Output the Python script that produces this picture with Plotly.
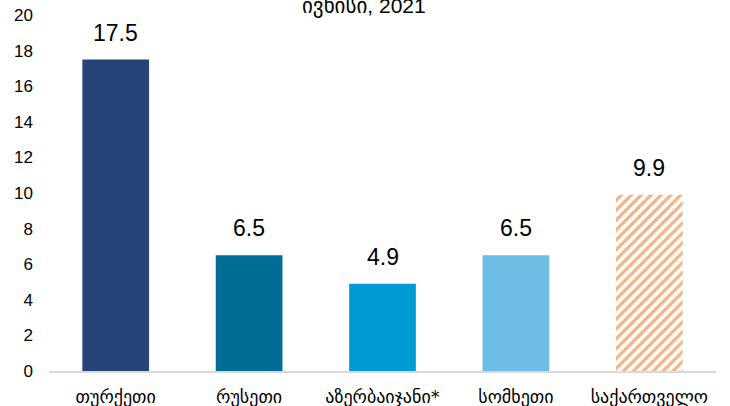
import plotly.graph_objects as go

categories = ["თურქეთი", "რუსეთი", "აზერბაიჯანი*", "სომხეთი", "საქართველო"]
values = [17.5, 6.5, 4.9, 6.5, 9.9]
title_text = "ივნისი, 2021"
y_ticks = [0, 2, 4, 6, 8, 10, 12, 14, 16, 18, 20]

bar_colors = ["#264478", "#006E94", "#009AD4", "#6DBDE5", "#F4B183"]
patterns = ["", "", "", "", "/"]
FONT = "Arial, Liberation Sans, DejaVu Sans"

fig = go.Figure()
fig.add_trace(go.Bar(
    x=categories,
    y=values,
    width=0.5,
    marker=dict(
        color=bar_colors,
        line=dict(width=0),
        pattern=dict(
            shape=patterns,
            fgcolor=bar_colors,
            bgcolor="white",
            fillmode="replace",
            size=7,
            solidity=0.45,
        ),
    ),
    showlegend=False,
    hoverinfo="skip",
))

for c, v in zip(categories, values):
    fig.add_annotation(
        x=c, y=v, xref="x", yref="y", text=f"{v:.1f}",
        showarrow=False, yanchor="bottom", yshift=12,
        font=dict(size=23, color="#000000", family=FONT),
    )

fig.add_annotation(
    text=title_text, xref="paper", x=0.472, yref="paper", y=1.0,
    yanchor="middle", yshift=9, showarrow=False,
    font=dict(size=21, color="#000000", family=FONT),
)

fig.update_layout(
    width=730, height=406,
    margin=dict(l=49, r=14, t=15, b=35, autoexpand=False),
    paper_bgcolor="white", plot_bgcolor="white",
    font=dict(family=FONT, color="#000000"),
)
fig.update_xaxes(
    showline=True, linecolor="#D9D9D9", linewidth=1.5,
    ticks="", showgrid=False, automargin=False, ticklabelstandoff=9,
    tickfont=dict(size=18, family="DejaVu Sans, Noto Sans", color="#000000"),
)
fig.update_yaxes(
    range=[0, 20], tickvals=y_ticks, showgrid=False, zeroline=False,
    showline=False, ticks="", ticklabelstandoff=15, automargin=False,
    tickfont=dict(size=17, color="#000000", family="Arial, Liberation Sans"),
)

fig.write_html(
    "out.html",
    config={"displayModeBar": False},
    post_script="document.body.style.margin='0';",
)
